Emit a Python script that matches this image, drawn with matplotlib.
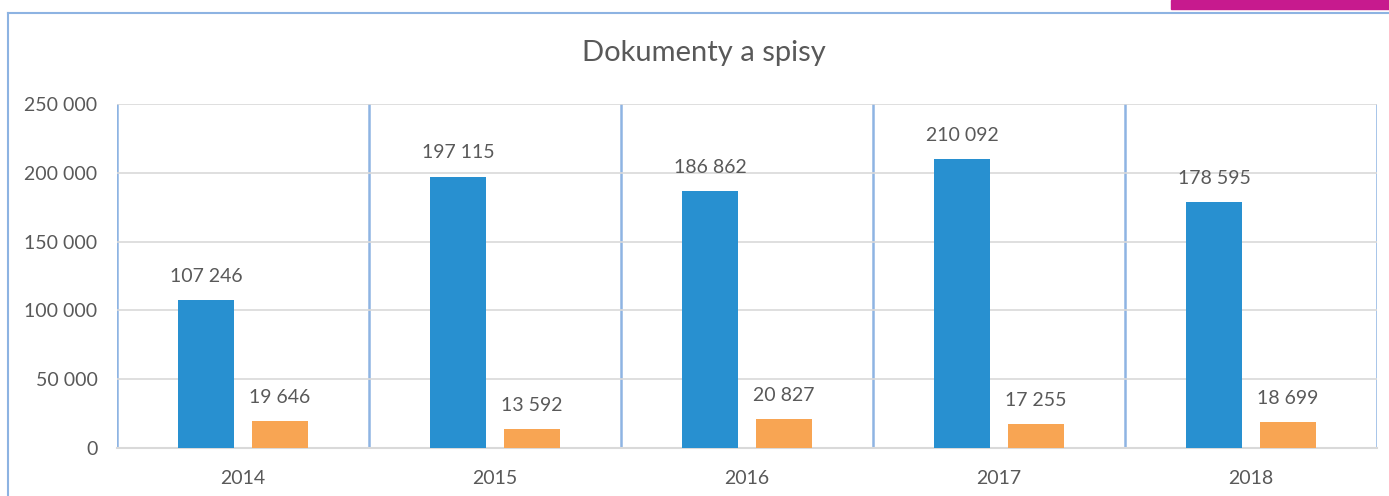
import numpy as np
import matplotlib.pyplot as plt
from matplotlib.patches import Rectangle
from matplotlib.lines import Line2D

# ── Datos ───────────────────────────────────────────────────────────────────
years = ['2014', '2015', '2016', '2017', '2018']
dokumenty = [107246, 197115, 186862, 210092, 178595]
spisy = [19646, 13592, 20827, 17255, 18699]
yticks = [0, 50000, 100000, 150000, 200000, 250000]

plt.rcParams['font.family'] = ['Lato', 'DejaVu Sans']
txt = '#595959'

def fmt(v):
    return f'{v:,}'.replace(',', ' ')

fig = plt.figure(figsize=(13.89, 4.96), dpi=100)
ax = fig.add_axes([117 / 1389, 1 - 448 / 496, 1260 / 1389, 344 / 496])

x = np.arange(len(years))
w = 0.222
off = 0.145
b1 = ax.bar(x - off, dokumenty, w, color='#2890D0', zorder=3)
b2 = ax.bar(x + off, spisy, w, color='#F8A553', zorder=3)

for bars, vals in [(b1, dokumenty), (b2, spisy)]:
    for bar, v in zip(bars, vals):
        ax.annotate(fmt(v), (bar.get_x() + bar.get_width() / 2, v),
                    xytext=(0, 11), textcoords='offset points',
                    ha='center', va='bottom', fontsize=14, color=txt)

ax.set_xlim(-0.5, len(years) - 0.5)
ax.set_ylim(0, 250000)
ax.set_yticks(yticks)
ax.set_yticklabels([fmt(v) for v in yticks], fontsize=14, color=txt)
ax.set_xticks(x)
ax.set_xticklabels(years, fontsize=14, color=txt)
ax.tick_params(length=0)
ax.tick_params(axis='x', pad=16)
ax.tick_params(axis='y', pad=14)
ax.grid(axis='y', color='#D9D9D9', linewidth=1.2, zorder=0)
for xb in np.arange(-0.5, len(years), 1.0):
    ax.axvline(xb, color='#8EB4E3', linewidth=1.8, zorder=1)
for s in ['top', 'left', 'right']:
    ax.spines[s].set_visible(False)
ax.spines['bottom'].set_color('#D9D9D9')
ax.spines['bottom'].set_linewidth(1.5)

fig.text(704 / 1389, 1 - 53 / 496, 'Dokumenty a spisy', ha='center', va='center',
         fontsize=21, color=txt)

# marco exterior y barra superior
fig.add_artist(Line2D([8 / 1389, 8 / 1389], [0, 1 - 13 / 496], color='#8DB3E2', lw=1.5,
                      transform=fig.transFigure))
fig.add_artist(Line2D([8 / 1389, 1], [1 - 13 / 496, 1 - 13 / 496], color='#8DB3E2', lw=1.5,
                      transform=fig.transFigure))
fig.add_artist(Rectangle((1171 / 1389, 1 - 9 / 496), 218 / 1389, 9 / 496,
                         color='#C71A8E', transform=fig.transFigure))

plt.savefig('out.png', dpi=100)
